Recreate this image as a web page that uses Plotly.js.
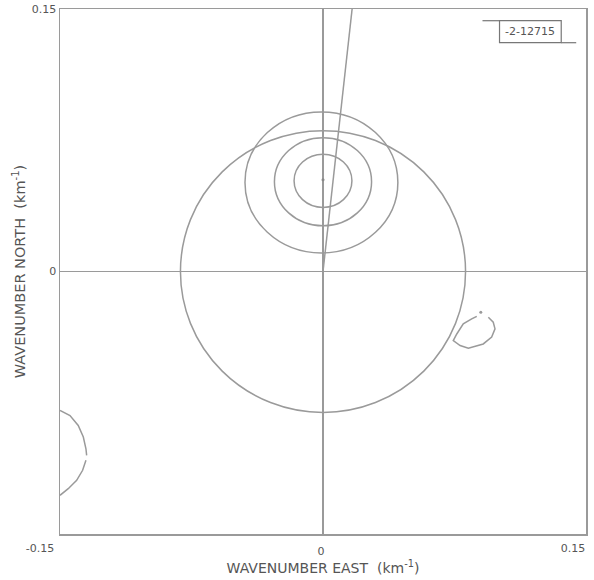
<!DOCTYPE html>
<html><head><meta charset="utf-8">
<script src="https://cdn.plot.ly/plotly-3.0.1.min.js"></script>
<style>html,body{margin:0;padding:0;background:#fff}</style>
</head><body><div id="chart" style="width:594px;height:580px"></div>
<script>
// Contours (ellipses): centre and semi-axes, km^-1
const ellipseCx = [0.0, -0.0009, 0.0, 0.0];
const ellipseCy = [0.0, 0.0509, 0.0513, 0.0518];
const ellipseRx = [0.0813, 0.0436, 0.0277, 0.0165];
const ellipseRy = [0.0805, 0.0403, 0.0252, 0.0152];

// Peak marker
const peakX = [0.0];
const peakY = [0.0524];

// Radial direction line
const rayX = [0.0, 0.0166];
const rayY = [0.0, 0.15];

// Small closed contour, right side
const blobX = [0.0943, 0.0971, 0.0981, 0.0962, 0.0914, 0.0829, 0.0782, 0.0743, 0.0763, 0.0800, 0.0848, 0.0877];
const blobY = [-0.0261, -0.0290, -0.0328, -0.0375, -0.0414, -0.0438, -0.0423, -0.0395, -0.0357, -0.0299, -0.0271, -0.0256];
const blobDotX = [0.0900];
const blobDotY = [-0.0233];

// Partial contour at left edge
const arcX = [-0.1500, -0.1443, -0.1396, -0.1367, -0.1352, -0.1348, null, -0.1352, -0.1371, -0.1405, -0.1453, -0.1500];
const arcY = [-0.0794, -0.0823, -0.0880, -0.0946, -0.1013, -0.1051, null, -0.1079, -0.1136, -0.1193, -0.1241, -0.1279];

// Axis ticks
const xTickMid = [0];
const xTickMidText = ['0'];
const xTickLeft = [-0.15];
const xTickLeftText = ['-0.15'];
const xTickRight = [0.15];
const xTickRightText = ['0.15'];
const yTicks = [0, 0.15];
const yTickText = ['0', '0.15'];

const lineCol = '#9a9a9a';
const textCol = '#555555';
const fontFam = 'DejaVu Sans, sans-serif';

const traces = [
  {x: rayX, y: rayY, mode: 'lines', line: {color: lineCol, width: 1.5}, hoverinfo: 'skip'},
  {x: blobX, y: blobY, mode: 'lines', line: {color: lineCol, width: 1.5}, hoverinfo: 'skip'},
  {x: blobDotX, y: blobDotY, mode: 'markers', marker: {color: lineCol, size: 3}, hoverinfo: 'skip'},
  {x: arcX, y: arcY, mode: 'lines', line: {color: lineCol, width: 1.5}, connectgaps: false, hoverinfo: 'skip'},
  {x: peakX, y: peakY, mode: 'markers', marker: {color: '#888', size: 3}, hoverinfo: 'skip'},
  {x: xTickLeft, y: [0], xaxis: 'x2', mode: 'markers', marker: {opacity: 0}, hoverinfo: 'skip'},
  {x: xTickRight, y: [0], xaxis: 'x3', mode: 'markers', marker: {opacity: 0}, hoverinfo: 'skip'}
];

const shapes = ellipseCx.map((cx, i) => ({
  type: 'circle', xref: 'x', yref: 'y',
  x0: cx - ellipseRx[i], x1: cx + ellipseRx[i],
  y0: ellipseCy[i] - ellipseRy[i], y1: ellipseCy[i] + ellipseRy[i],
  line: {color: lineCol, width: 1.5}
}));
// identification box, top right
shapes.push({type: 'rect', xref: 'paper', yref: 'paper', x0: 0.8356, x1: 0.9529, y0: 0.9358, y1: 0.9777, line: {color: '#777', width: 1.2}});
shapes.push({type: 'line', xref: 'paper', yref: 'paper', x0: 0.8032, x1: 0.8356, y0: 0.9777, y1: 0.9777, line: {color: '#777', width: 1.2}});
shapes.push({type: 'line', xref: 'paper', yref: 'paper', x0: 0.9529, x1: 0.9814, y0: 0.9358, y1: 0.9358, line: {color: '#777', width: 1.2}});

const tickFont = {family: fontFam, size: 11, color: textCol};
const axisCommon = {
  range: [-0.15, 0.15], showgrid: false, zeroline: true, zerolinecolor: lineCol, zerolinewidth: 1.5,
  showline: true, linecolor: lineCol, linewidth: 1.5, mirror: true, ticks: '',
  tickfont: tickFont, tickmode: 'array', fixedrange: true
};

const layout = {
  width: 594, height: 580,
  margin: {l: 60, r: 8, t: 9, b: 46},
  paper_bgcolor: '#ffffff', plot_bgcolor: '#ffffff',
  showlegend: false,
  font: {family: fontFam, color: textCol},
  xaxis: Object.assign({}, axisCommon, {
    tickvals: xTickMid, ticktext: xTickMidText, ticklabelshift: -2, ticklabelstandoff: 6,
    title: {text: 'WAVENUMBER EAST  (km<sup>-1</sup>)', font: {family: fontFam, size: 14, color: textCol}, standoff: 4}
  }),
  xaxis2: {overlaying: 'x', anchor: 'y', range: [-0.15, 0.15], showgrid: false, zeroline: false, showline: false, ticks: '',
    tickmode: 'array', tickvals: xTickLeft, ticktext: xTickLeftText, ticklabelshift: -20, ticklabelstandoff: 6,
    tickfont: tickFont, fixedrange: true},
  xaxis3: {overlaying: 'x', anchor: 'y', range: [-0.15, 0.15], showgrid: false, zeroline: false, showline: false, ticks: '',
    tickmode: 'array', tickvals: xTickRight, ticktext: xTickRightText, ticklabelshift: -13, ticklabelstandoff: 6,
    tickfont: tickFont, fixedrange: true},
  yaxis: Object.assign({}, axisCommon, {
    tickvals: yTicks, ticktext: yTickText,
    title: {text: 'WAVENUMBER NORTH  (km<sup>-1</sup>)', font: {family: fontFam, size: 14.5, color: textCol}, standoff: 2}
  }),
  shapes: shapes,
  annotations: [{
    xref: 'paper', yref: 'paper', x: 0.8943, y: 0.9568, text: '-2-12715', showarrow: false,
    font: {family: fontFam, size: 11, color: '#555'}, xanchor: 'center', yanchor: 'middle'
  }]
};

Plotly.newPlot('chart', traces, layout, {displayModeBar: false, staticPlot: true});
</script>
</body></html>
